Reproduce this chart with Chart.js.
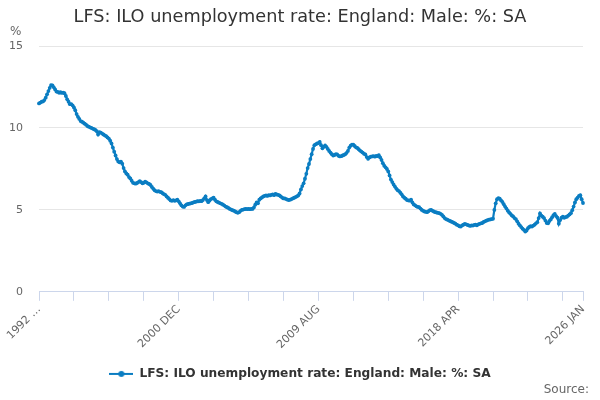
<!DOCTYPE html>
<html>
<head>
<meta charset="utf-8">
<title>LFS: ILO unemployment rate: England: Male: %: SA</title>
<script src="https://cdn.jsdelivr.net/npm/chart.js@4/dist/chart.umd.min.js"></script>
<style>
  html, body { margin: 0; padding: 0; background: #fff; }
  #chart { display: block; }
</style>
</head>
<body>
<canvas id="chart" width="600" height="400"></canvas>
<script>
// monthly series, starts 1992 APR and ends 2026 JAN
const startYear = 1992;
const startMonth = 3; // index into monthNames (APR)
const monthNames = ['JAN', 'FEB', 'MAR', 'APR', 'MAY', 'JUN', 'JUL', 'AUG', 'SEP', 'OCT', 'NOV', 'DEC'];

// ticks shown on the x axis (index into the series -> text)
const tickIndexes = [0, 104, 208, 312, 405];
const tickLabels = ['1992 \u2026', '2000 DEC', '2009 AUG', '2018 APR', '2026 JAN'];
const minorTickStep = 26;

const yTicks = [0, 5, 10, 15];

// one row per calendar year
const rate = [
  11.5, 11.55, 11.6, 11.62, 11.7, 11.85, 12.05, 12.25, 12.45,                    // 1992
  12.62, 12.6, 12.48, 12.35, 12.22, 12.2, 12.15, 12.18, 12.14, 12.16, 12.12, 11.95, // 1993
  11.75, 11.6, 11.45, 11.45, 11.38, 11.25, 11.08, 10.85, 10.68, 10.55, 10.42, 10.38, // 1994
  10.32, 10.26, 10.2, 10.12, 10.08, 10.04, 10.0, 9.96, 9.92, 9.88, 9.8, 9.6,         // 1995
  9.75, 9.72, 9.66, 9.6, 9.55, 9.5, 9.42, 9.35, 9.22, 9.05, 8.8, 8.55,              // 1996
  8.32, 8.1, 7.95, 7.9, 7.95, 7.82, 7.55, 7.35, 7.22, 7.15, 7.0, 6.92,              // 1997
  6.78, 6.65, 6.62, 6.6, 6.64, 6.7, 6.75, 6.7, 6.62, 6.65, 6.72, 6.68,              // 1998
  6.62, 6.58, 6.52, 6.4, 6.3, 6.2, 6.15, 6.12, 6.14, 6.1, 6.08, 6.02,               // 1999
  5.96, 5.92, 5.82, 5.74, 5.66, 5.58, 5.55, 5.6, 5.55, 5.58, 5.62, 5.52,            // 2000
  5.4, 5.28, 5.2, 5.18, 5.28, 5.33, 5.36, 5.38, 5.4, 5.42, 5.46, 5.48,              // 2001
  5.5, 5.54, 5.52, 5.55, 5.53, 5.6, 5.7, 5.82, 5.6, 5.47, 5.58, 5.66,               // 2002
  5.7, 5.74, 5.62, 5.52, 5.48, 5.44, 5.4, 5.37, 5.32, 5.26, 5.2, 5.16,              // 2003
  5.12, 5.06, 5.02, 4.98, 4.95, 4.9, 4.86, 4.82, 4.86, 4.94, 5.0, 5.02,             // 2004
  5.04, 5.06, 5.05, 5.06, 5.04, 5.06, 5.06, 5.15, 5.32, 5.45, 5.4, 5.62,            // 2005
  5.7, 5.76, 5.82, 5.86, 5.88, 5.85, 5.9, 5.88, 5.92, 5.95, 5.9, 5.98,              // 2006
  5.94, 5.92, 5.88, 5.82, 5.75, 5.7, 5.7, 5.66, 5.62, 5.6, 5.62, 5.66,              // 2007
  5.7, 5.74, 5.78, 5.82, 5.88, 6.0, 6.25, 6.45, 6.62, 6.9, 7.2, 7.55,               // 2008
  7.8, 8.1, 8.4, 8.72, 8.95, 9.0, 9.05, 9.08, 9.15, 8.95, 8.76, 8.85,               // 2009
  8.93, 8.85, 8.72, 8.6, 8.5, 8.4, 8.32, 8.35, 8.4, 8.38, 8.3, 8.26,                // 2010
  8.28, 8.32, 8.35, 8.4, 8.48, 8.6, 8.8, 8.92, 8.98, 8.98, 8.9, 8.82,               // 2011
  8.78, 8.7, 8.62, 8.56, 8.5, 8.42, 8.38, 8.22, 8.12, 8.2, 8.25, 8.26,              // 2012
  8.28, 8.25, 8.3, 8.28, 8.34, 8.2, 8.05, 7.85, 7.7, 7.6, 7.5, 7.35,                // 2013
  7.1, 6.85, 6.7, 6.55, 6.42, 6.3, 6.2, 6.15, 6.05, 5.95, 5.82, 5.74,               // 2014
  5.68, 5.6, 5.58, 5.56, 5.62, 5.45, 5.33, 5.28, 5.22, 5.18, 5.16, 5.08,            // 2015
  5.0, 4.94, 4.9, 4.88, 4.86, 4.92, 4.98, 5.0, 4.94, 4.9, 4.86, 4.84,               // 2016
  4.82, 4.8, 4.76, 4.7, 4.6, 4.5, 4.44, 4.4, 4.36, 4.32, 4.28, 4.25,                // 2017
  4.2, 4.16, 4.1, 4.06, 4.0, 3.98, 4.05, 4.1, 4.14, 4.12, 4.08, 4.05,               // 2018
  4.02, 4.06, 4.04, 4.08, 4.1, 4.06, 4.12, 4.15, 4.18, 4.2, 4.26, 4.3,              // 2019
  4.34, 4.38, 4.4, 4.42, 4.44, 4.46, 5.0, 5.4, 5.65, 5.72, 5.68, 5.58,              // 2020
  5.48, 5.35, 5.2, 5.08, 4.95, 4.84, 4.76, 4.66, 4.6, 4.5, 4.44, 4.3,               // 2021
  4.16, 4.05, 3.95, 3.85, 3.78, 3.68, 3.74, 3.88, 3.96, 4.0, 3.98, 4.04,            // 2022
  4.1, 4.18, 4.25, 4.5, 4.78, 4.65, 4.58, 4.5, 4.35, 4.2, 4.18, 4.32,               // 2023
  4.42, 4.55, 4.68, 4.75, 4.62, 4.52, 4.16, 4.38, 4.52, 4.58, 4.52, 4.56,           // 2024
  4.58, 4.65, 4.72, 4.8, 4.98, 5.2, 5.45, 5.65, 5.75, 5.85, 5.9, 5.65,              // 2025
  5.42                                                                              // 2026
];

const seriesName = 'LFS: ILO unemployment rate: England: Male: %: SA';
const lineColor = '#0a7dc2';

// category labels like "1992 APR"
const labels = rate.map((v, i) => {
  const m = startMonth + i;
  return (startYear + Math.floor(m / 12)) + ' ' + monthNames[m % 12];
});

// legend symbol: short line with a dot in the middle
const legendIcon = document.createElement('canvas');
legendIcon.width = 24;
legendIcon.height = 8;
(function () {
  const c = legendIcon.getContext('2d');
  c.strokeStyle = lineColor;
  c.lineWidth = 2;
  c.beginPath();
  c.moveTo(0, 4);
  c.lineTo(24, 4);
  c.stroke();
  c.fillStyle = lineColor;
  c.beginPath();
  c.arc(12, 4, 3, 0, Math.PI * 2);
  c.fill();
})();

const extraText = {
  id: 'extraText',
  afterDraw(chart) {
    const ctx = chart.ctx;
    ctx.save();
    ctx.fillStyle = '#666';
    ctx.font = '12px "DejaVu Sans"';
    ctx.textBaseline = 'middle';
    ctx.textAlign = 'left';
    ctx.fillText('%', 10, 32);
    ctx.textAlign = 'right';
    ctx.fillText('Source:', 589, 390);
    ctx.restore();
  }
};

Chart.defaults.font.family = '"DejaVu Sans", sans-serif';

new Chart(document.getElementById('chart'), {
  type: 'line',
  data: {
    labels: labels,
    datasets: [{
      label: seriesName,
      data: rate,
      borderColor: lineColor,
      backgroundColor: lineColor,
      borderWidth: 2.2,
      pointRadius: 1.9,
      pointBorderWidth: 0,
      pointBackgroundColor: lineColor,
      tension: 0
    }]
  },
  options: {
    responsive: false,
    animation: false,
    devicePixelRatio: 1,
    layout: { padding: { left: 0, right: 0, top: 0, bottom: 10 } },
    plugins: {
      title: {
        display: true,
        text: seriesName,
        color: '#333',
        font: { size: 17.7, weight: 'normal' },
        padding: { top: 7, bottom: 17.8 }
      },
      legend: {
        position: 'bottom',
        labels: {
          color: '#333',
          font: { size: 12.2, weight: 'bold' },
          usePointStyle: true,
          pointStyle: legendIcon,
          pointStyleWidth: 24,
          padding: 10
        }
      },
      tooltip: { enabled: false }
    },
    scales: {
      x: {
        type: 'category',
        offset: false,
        afterFit(scale) { scale.height = 66; },
        grid: {
          display: true,
          drawOnChartArea: false,
          drawTicks: true,
          tickLength: 9,
          color: '#ccd6eb'
        },
        border: { display: true, color: '#ccd6eb' },
        ticks: {
          autoSkip: false,
          maxRotation: 45,
          minRotation: 45,
          color: '#666',
          font: { size: 11 },
          padding: 2,
          callback(value, index) {
            const k = tickIndexes.indexOf(index);
            if (k >= 0) return tickLabels[k];
            if (index % minorTickStep === 0) return '';
            return null;
          }
        }
      },
      y: {
        min: yTicks[0],
        max: yTicks[yTicks.length - 1],
        afterFit(scale) { scale.width = 39; },
        afterBuildTicks(scale) { scale.ticks = yTicks.map(v => ({ value: v })); },
        grid: { color: '#e6e6e6', drawTicks: false },
        border: { display: false },
        ticks: {
          color: '#666',
          font: { size: 11 },
          padding: 16
        }
      },
      // empty right-hand gutter so the title and legend stay centred on the canvas
      gutter: {
        type: 'linear',
        position: 'right',
        display: true,
        afterFit(scale) { scale.width = 17; },
        grid: { display: false, drawTicks: false },
        border: { display: false },
        ticks: { display: false }
      }
    }
  },
  plugins: [extraText]
});
</script>
</body>
</html>
